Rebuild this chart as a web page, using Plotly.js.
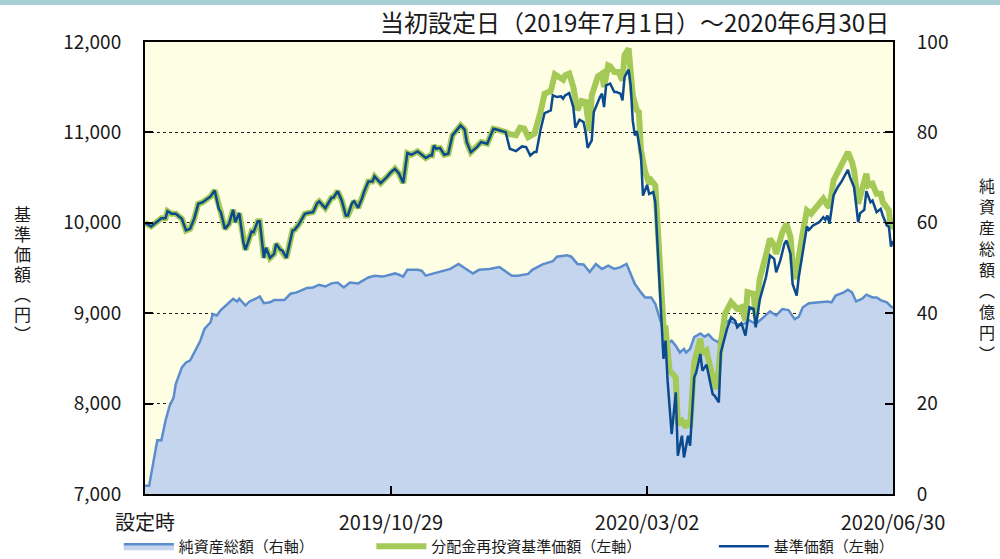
<!DOCTYPE html>
<html>
<head>
<meta charset="utf-8">
<script src="https://cdn.plot.ly/plotly-3.0.1.min.js"></script>
<style>
  html, body { margin: 0; padding: 0; background: #ffffff; }
  #chart { width: 1000px; height: 559px; }
</style>
</head>
<body>
<div id="chart"></div>
<script>
// x values: days since the launch date 2019-07-01 (設定時 = day 0, 2020-06-30 = day 365)
const tickDays = [0, 120, 245, 365];
const tickLabels = ['設定時', '2019/10/29', '2020/03/02', '2020/06/30'];

// 基準価額 (left axis, yen)
const priceDays = [0,3,8,10,11,13,15,18,20,22,
  24,26,28,31,32,34,36,37,39,41,
  43,44,46,48,49,52,53,55,56,58,
  59,61,63,64,66,67,69,72,73,75,
  78,80,82,84,85,88,91,92,94,96,
  98,99,101,102,104,106,107,109,111,112,
  115,118,120,122,124,126,128,130,133,137,
  139,140,141,142,144,146,148,150,152,154,
  156,157,159,162,164,167,168,170,172,175,
  176,178,181,184,186,188,190,191,193,195,
  198,199,201,203,204,205,207,209,210,212,
  214,215,216,218,219,222,223,224,225,227,
  229,230,232,233,234,236,237,238,239,240,
  242,243,245,246,248,249,253,254,255,257,
  259,260,262,263,265,266,268,269,271,272,
  274,277,278,280,281,284,286,288,289,291,
  293,295,297,298,300,303,305,307,308,310,
  312,313,315,316,318,319,321,323,324,326,
  329,331,332,333,334,336,338,340,343,344,
  346,348,349,351,352,354,355,357,359,360,
  362,363,364,365];
const priceVals = [10000,9960,10051,10050,10129,10100,10100,10044,9915,9933,
  10044,10210,10225,10277,10291,10358,10155,10118,9933,9989,
  10144,10007,10107,9785,9701,9904,9896,10018,10018,9612,
  9723,9612,9656,9767,9701,9693,9612,9915,9922,9981,
  10100,10111,10118,10217,10236,10162,10277,10280,10350,10247,
  10081,10081,10217,10239,10166,10277,10350,10457,10457,10513,
  10439,10505,10560,10598,10543,10439,10771,10753,10790,10716,
  10745,10745,10856,10819,10826,10753,10764,10967,11022,11078,
  11030,10893,10782,10837,10893,10875,10930,11041,11030,11014,
  11003,10819,10793,10845,10837,10745,10782,10782,11030,11214,
  11244,11410,11391,11399,11373,11410,11435,11280,11052,11141,
  11114,11003,10830,10911,11225,11391,11429,11280,11520,11539,
  11446,11446,11429,11354,11612,11694,11520,11133,10967,11014,
  10745,10300,10420,10320,10340,10230,8494,8697,8254,7663,
  8124,7423,7645,7404,7645,7534,8290,8346,8549,8364,
  8431,8106,8087,8013,8567,8826,8955,8918,8844,8889,
  8752,9066,9048,8844,9150,9398,9638,9601,9453,9583,
  9767,9804,9656,9324,9195,9398,9693,9959,9922,9970,
  10007,10062,10033,10081,9989,10302,10394,10461,10587,10505,
  10394,10007,10107,10144,10350,10229,10247,10118,10155,10081,
  9970,9959,9737,9800];

// 分配金再投資基準価額: identical to 基準価額 up to day 176, then its own path
const reinvSameUntilDay = 176;
const reinvTailDays = [178,181,183,185,187,190,193,195,198,200,
  202,204,205,207,209,211,213,215,216,217,
  218,221,223,224,226,227,229,231,233,234,
  236,237,238,240,241,242,244,246,247,249,
  253,254,256,259,260,262,264,265,266,268,
  269,271,272,274,277,279,281,283,286,289,
  291,293,294,297,298,300,303,305,307,308,
  311,313,315,316,318,319,321,323,325,327,
  329,331,333,334,336,338,341,343,345,346,
  348,350,352,353,355,357,359,360,362,363,
  364,365];
const reinvTailVals = [10980,10970,11052,11041,10948,10985,11225,11429,11457,11642,
  11612,11584,11631,11650,11502,11244,11347,11336,11170,11014,
  11410,11620,11650,11502,11742,11731,11668,11668,11576,11853,
  11927,11723,11410,11244,11225,10801,10570,10432,10469,10413,
  8863,8844,8364,8290,7773,7811,7737,7811,7737,8457,
  8549,8716,8549,8586,8290,8162,8660,8992,9121,9048,
  9066,8918,9232,9213,8955,9380,9640,9823,9750,9656,
  9896,9989,9841,9546,9380,9620,9896,10137,10100,10155,
  10210,10266,10192,10173,10469,10560,10660,10782,10671,10579,
  10210,10358,10543,10413,10432,10321,10321,10229,10155,10137,
  9933,10000];

// 純資産総額 (right axis, 億円)
const navDays = [0,2,6,8,10,12,14,15,18,20,
  22,24,27,29,32,33,35,37,40,43,
  45,46,49,51,54,56,58,61,63,66,
  68,71,74,76,79,82,85,88,91,94,
  97,100,104,109,112,116,119,122,124,126,
  128,133,135,137,140,143,149,153,156,160,
  163,168,173,175,179,182,187,189,194,199,
  201,206,208,211,214,217,219,220,223,226,
  229,232,235,237,239,242,244,247,249,251,
  254,255,257,259,261,263,264,266,268,271,
  273,275,277,280,282,285,289,292,295,298,
  302,305,308,311,314,317,319,321,324,328,
  333,335,337,341,343,345,347,350,352,355,
  357,359,362,364,365];
const navVals = [1.8,1.8,11.9,11.9,16.2,19.5,21.4,24.3,28.0,29.1,
  29.5,31.3,33.9,36.5,38.0,39.8,39.5,40.7,41.9,43.2,
  42.6,43.2,41.7,42.6,43.2,43.7,42.2,42.4,42.9,42.8,
  42.9,44.3,44.6,45.0,45.6,45.7,46.3,45.9,46.6,46.8,
  45.7,46.8,46.6,47.9,48.3,48.1,48.5,48.8,48.5,48.1,
  49.6,49.6,49.4,48.3,48.7,49.1,49.8,50.9,50.0,48.8,
  49.6,49.8,50.2,49.6,48.3,48.3,48.7,49.6,50.8,51.5,
  52.5,52.8,52.5,50.9,50.8,49.1,50.2,50.9,49.8,50.5,
  49.8,50.2,50.9,48.7,46.5,44.6,43.5,43.5,42.1,39.1,
  34.7,33.2,33.9,32.8,31.3,32.1,31.3,32.1,34.7,35.5,
  34.8,35.3,34.3,33.5,37.3,38.4,37.5,37.6,38.4,37.6,
  39.2,40.4,39.5,40.9,40.7,38.7,39.2,41.3,42.2,42.4,
  42.6,42.4,43.9,44.6,45.2,44.6,42.6,43.2,44.1,43.5,
  43.5,42.9,42.4,41.5,41.2];

const seriesNames = ['純資産総額（右軸）', '分配金再投資基準価額（左軸）', '基準価額（左軸）'];
const titleText = '当初設定日（2019年7月1日）～2020年6月30日';
const leftTitle = '基準価額（円）';
const rightTitle = '純資産総額（億円）';

const splitIdx = priceDays.indexOf(reinvSameUntilDay) + 1;
const reinvDays = priceDays.slice(0, splitIdx).concat(reinvTailDays);
const reinvVals = priceVals.slice(0, splitIdx).concat(reinvTailVals);

const FONT = 'Noto Sans CJK JP, sans-serif';
const pad = n => '\u3000'.repeat(n);

const traces = [
  {
    x: navDays, y: navVals, yaxis: 'y', type: 'scatter', mode: 'lines',
    name: seriesNames[0] + pad(4),
    fill: 'tozeroy', fillcolor: '#C5D5EE',
    line: { color: '#5B8DCC', width: 2.5 }
  },
  {
    x: reinvDays, y: reinvVals, yaxis: 'y2', type: 'scatter', mode: 'lines',
    name: seriesNames[1] + pad(5),
    line: { color: '#A4C957', width: 6 }
  },
  {
    x: priceDays, y: priceVals, yaxis: 'y2', type: 'scatter', mode: 'lines',
    name: seriesNames[2],
    line: { color: '#0B4A8E', width: 2.5 }
  }
];

const layout = {
  width: 1000, height: 559,
  margin: { l: 145, r: 107, t: 42, b: 65, autoexpand: false },
  paper_bgcolor: '#ffffff',
  plot_bgcolor: '#FEFEE4',
  font: { family: FONT, size: 19, color: '#1a1a1a' },
  showlegend: true,
  legend: {
    orientation: 'h', x: -0.035, xanchor: 'left', y: -(563 - 494) / 452, yanchor: 'bottom',
    font: { family: FONT, size: 15, color: '#1a1a1a' },
    itemwidth: 50, bgcolor: 'rgba(0,0,0,0)', traceorder: 'normal'
  },
  xaxis: {
    range: [0, 365], tickmode: 'array', tickvals: tickDays, ticktext: tickLabels,
    ticks: 'inside', ticklen: 8, tickwidth: 2, tickcolor: '#000',
    showline: true, linewidth: 2, linecolor: '#000', mirror: true,
    showgrid: false, zeroline: false, ticklabelstandoff: 10,
    tickfont: { family: FONT, size: 20 }
  },
  yaxis: {
    side: 'right', range: [0, 100], dtick: 20, tick0: 0,
    ticks: 'inside', ticklen: 8, tickwidth: 2, tickcolor: '#000',
    showline: true, linewidth: 2, linecolor: '#000',
    showgrid: false, zeroline: false, ticklabelstandoff: 18
  },
  yaxis2: {
    overlaying: 'y', side: 'left', range: [7000, 12000], dtick: 1000, tick0: 7000,
    tickformat: ',d',
    ticks: 'inside', ticklen: 8, tickwidth: 2, tickcolor: '#000',
    showline: true, linewidth: 2, linecolor: '#000',
    showgrid: true, gridcolor: '#222', griddash: 'dot', gridwidth: 1,
    zeroline: false, ticklabelstandoff: 18
  },
  shapes: [
    { type: 'rect', xref: 'paper', yref: 'paper', x0: -0.25, x1: 1.25,
      y0: 1 + 37 / 452, y1: 1 + 43 / 452, fillcolor: '#A9CFD6', line: { width: 0 }, layer: 'above' }
  ],
  annotations: [
    { xref: 'paper', yref: 'paper', x: 0.997, y: 1 + 20 / 452, xanchor: 'right', yanchor: 'middle',
      text: titleText, showarrow: false, font: { family: FONT, size: 24, color: '#1a1a1a' } },
    { xref: 'paper', yref: 'paper', x: (22 - 145) / 748, y: (494 - 268) / 452, xanchor: 'center', yanchor: 'middle',
      text: leftTitle, showarrow: false, font: { family: FONT, size: 17, color: '#1a1a1a' } },
    { xref: 'paper', yref: 'paper', x: (987 - 145) / 748, y: (494 - 265) / 452, xanchor: 'center', yanchor: 'middle',
      text: rightTitle, showarrow: false, font: { family: FONT, size: 16, color: '#1a1a1a' } }
  ]
};

const titleSpacing = { 1: '3px', 2: '5px' };

Plotly.newPlot('chart', traces, layout, { displayModeBar: false, staticPlot: true }).then(function (gd) {
  // draw the two axis titles in vertical (tategaki) writing mode
  [1, 2].forEach(function (i) {
    const t = gd.querySelector('g.annotation[data-index="' + i + '"] text.annotation-text');
    if (t) {
      t.setAttribute('writing-mode', 'vertical-rl');
      t.style.writingMode = 'vertical-rl';
      t.style.letterSpacing = titleSpacing[i];
      t.setAttribute('text-anchor', 'middle');
      t.setAttribute('dominant-baseline', 'central');
    }
  });
});
</script>
</body>
</html>
